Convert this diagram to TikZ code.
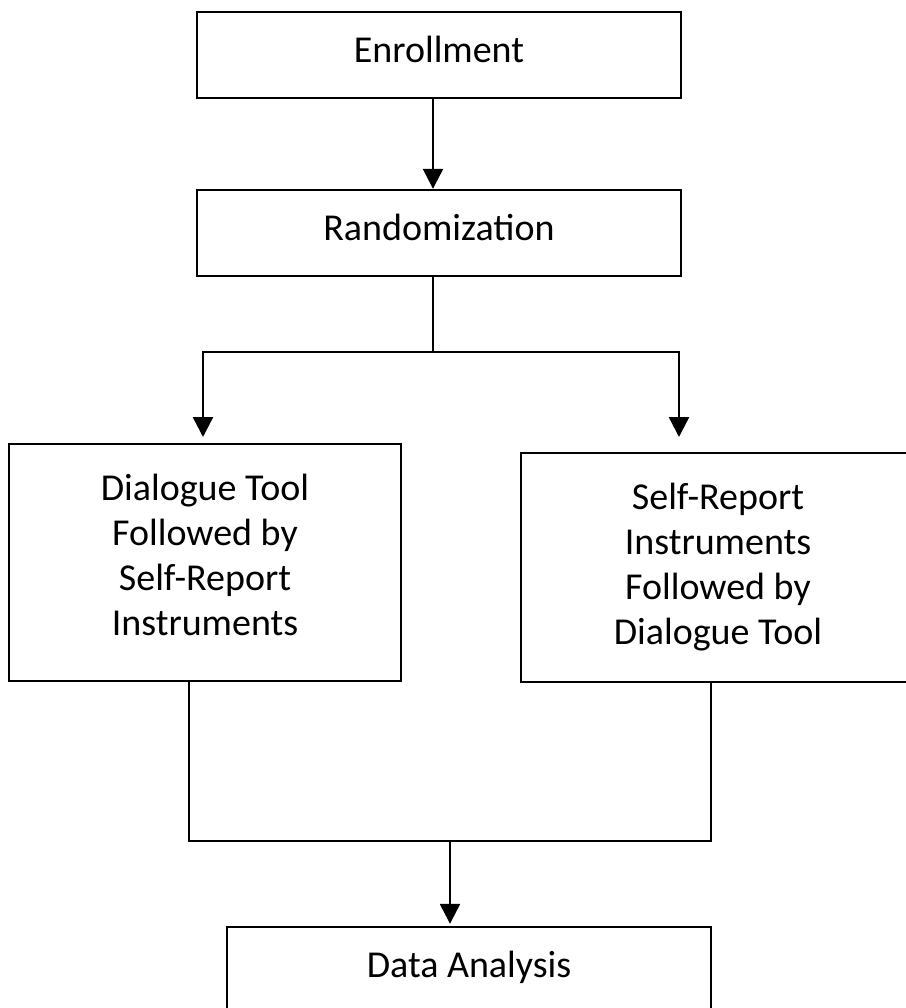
\documentclass[tikz,border=0pt]{standalone}
\usepackage{fontspec}
\setmainfont{Carlito}
\usetikzlibrary{positioning, arrows.meta}

\begin{document}
\begin{tikzpicture}[x=0.5pt, y=-0.5pt, line width=1.2pt,
    >={Triangle[width=10pt,length=10pt]},
    node distance=89pt, on grid,
    box/.style={draw, line width=1.2pt, align=center, inner sep=0pt,
      font=\fontsize{19}{22.5}\selectfont},
    wide/.style={box, minimum width=242pt, minimum height=43pt, text depth=6pt}]
  \useasboundingbox (0,0) rectangle (906,1008);

  \node[wide] (enr) at (439,55) {Enrollment};
  \node[wide] (rand) [below=of enr] {Randomization};
  \node[box, minimum width=196pt, minimum height=118.5pt, text depth=8pt] (dlg) at (205,562.5)
    {Dialogue Tool\\Followed by\\Self-Report\\Instruments};
  \node[box, minimum width=197pt, minimum height=114.5pt] (srp) at (718,567.5)
    {Self-Report\\Instruments\\Followed by\\Dialogue Tool};
  \node[wide] (dat) at (469,970) {Data Analysis};

  % split after randomization
  \coordinate (split) at (433,352);
  \coordinate (inL) at (203,437);
  \coordinate (inR) at (679,437);
  % join before analysis
  \coordinate (jL) at (189,841);
  \coordinate (jR) at (711,841);
  \coordinate (join) at (450,841);

  \draw[->] (enr.south -| split) -- (rand.north -| split);
  \draw (rand.south -| split) -- (split);
  \draw[->] (split) -| (inL);
  \draw[->] (split) -| (inR);
  \draw (dlg.south -| jL) -- (jL) -- (jR) -- (srp.south -| jR);
  \draw[->] (join) -- ([yshift=1pt]dat.north -| join);
\end{tikzpicture}
\end{document}
